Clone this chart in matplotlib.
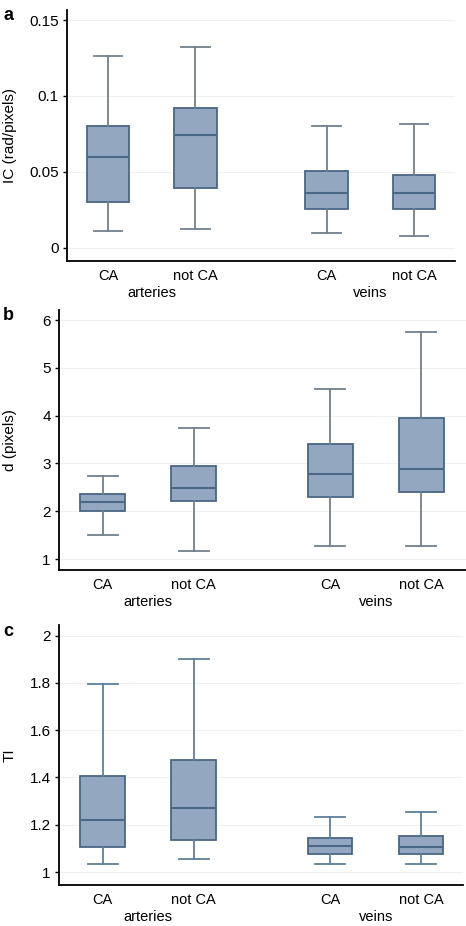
import matplotlib.pyplot as plt

categories = ["CA", "not CA", "CA", "not CA"]
groups = ["arteries", "veins"]

# five-number summaries per box: whisker low, q1, median, q3, whisker high
ic_stats = [
    [0.0114, 0.030, 0.060, 0.080, 0.1266],
    [0.0127, 0.0394, 0.074, 0.092, 0.132],
    [0.0099, 0.0256, 0.036, 0.0508, 0.080],
    [0.0081, 0.0256, 0.036, 0.0477, 0.0817],
]
d_stats = [
    [1.51, 2.01, 2.19, 2.37, 2.73],
    [1.16, 2.21, 2.49, 2.95, 3.74],
    [1.27, 2.30, 2.78, 3.40, 4.55],
    [1.27, 2.41, 2.88, 3.94, 5.76],
]
ti_stats = [
    [1.035, 1.106, 1.218, 1.407, 1.796],
    [1.056, 1.134, 1.272, 1.472, 1.903],
    [1.035, 1.077, 1.108, 1.144, 1.232],
    [1.035, 1.077, 1.104, 1.154, 1.254],
]

ic_ticks = [0, 0.05, 0.1, 0.15]
ic_ticklabels = ["0", "0.05", "0.1", "0.15"]
d_ticks = [1, 2, 3, 4, 5, 6]
ti_ticks = [1, 1.2, 1.4, 1.6, 1.8, 2]
ti_ticklabels = ["1", "1.2", "1.4", "1.6", "1.8", "2"]

positions = [0, 1, 2.5, 3.5]
fill = "#93a8c0"
edge = "#4a6785"
whisk = "#72808c"

W, H = 466, 926
fig = plt.figure(figsize=(W / 100, H / 100), dpi=100)
plt.rcParams["font.family"] = "Liberation Sans"


def panel(rect_px, stats, ylim, ticks, ticklabels, ylabel, letter, xlim, wcol):
    l, t, r, b = rect_px
    ax = fig.add_axes([l / W, 1 - b / H, (r - l) / W, (b - t) / H])
    bxp = []
    for s in stats:
        bxp.append(dict(whislo=s[0], q1=s[1], med=s[2], q3=s[3], whishi=s[4], fliers=[]))
    ax.bxp(bxp, positions=positions, widths=0.49, patch_artist=True, showfliers=False,
           boxprops=dict(facecolor=fill, edgecolor=edge, linewidth=1.3),
           medianprops=dict(color=edge, linewidth=1.5),
           whiskerprops=dict(color=wcol, linewidth=1.3),
           capprops=dict(color=wcol, linewidth=1.3),
           capwidths=0.33)
    ax.set_ylim(ylim)
    ax.set_xlim(xlim)
    ax.set_yticks(ticks)
    ax.set_yticklabels(ticklabels, fontsize=11)
    ax.set_xticks(positions)
    ax.set_xticklabels(categories, fontsize=10.5)
    ax.tick_params(axis="x", length=0, pad=6)
    ax.tick_params(axis="y", length=3, width=1, pad=3)
    for tk in ticks:
        ax.axhline(tk, color="#eef1f4", linewidth=0.8, zorder=0)
    ax.spines["top"].set_visible(False)
    ax.spines["right"].set_visible(False)
    ax.spines["left"].set_linewidth(1.3)
    ax.spines["bottom"].set_linewidth(1.3)
    ax.set_ylabel(ylabel, fontsize=11)
    gy = -32 / (b - t)
    ax.text(0.5, gy, groups[0], transform=ax.get_xaxis_transform(),
            ha="center", va="center", fontsize=10.5)
    ax.text(3.0, gy, groups[1], transform=ax.get_xaxis_transform(),
            ha="center", va="center", fontsize=10.5)
    fig.text(3 / W, 1 - (t + 6) / H, letter, fontsize=13, fontweight="bold",
             ha="left", va="center")
    ax.yaxis.set_label_coords((17 - l) / (r - l), 0.5)
    return ax


ax1 = panel((67, 10, 455, 261), ic_stats, (-0.0086, 0.1566), ic_ticks, ic_ticklabels,
            "IC (rad/pixels)", "a", (-0.47, 3.97), whisk)
ax2 = panel((59, 310, 466, 570), d_stats, (0.77, 6.21), d_ticks, [str(v) for v in d_ticks],
            "d (pixels)", "b", (-0.48, 3.99), whisk)
ax3 = panel((59, 625, 463, 885), ti_stats, (0.945, 2.045), ti_ticks, ti_ticklabels,
            "TI", "c", (-0.48, 3.96), "#5f7f9b")

fig.savefig("out.png", dpi=100)
